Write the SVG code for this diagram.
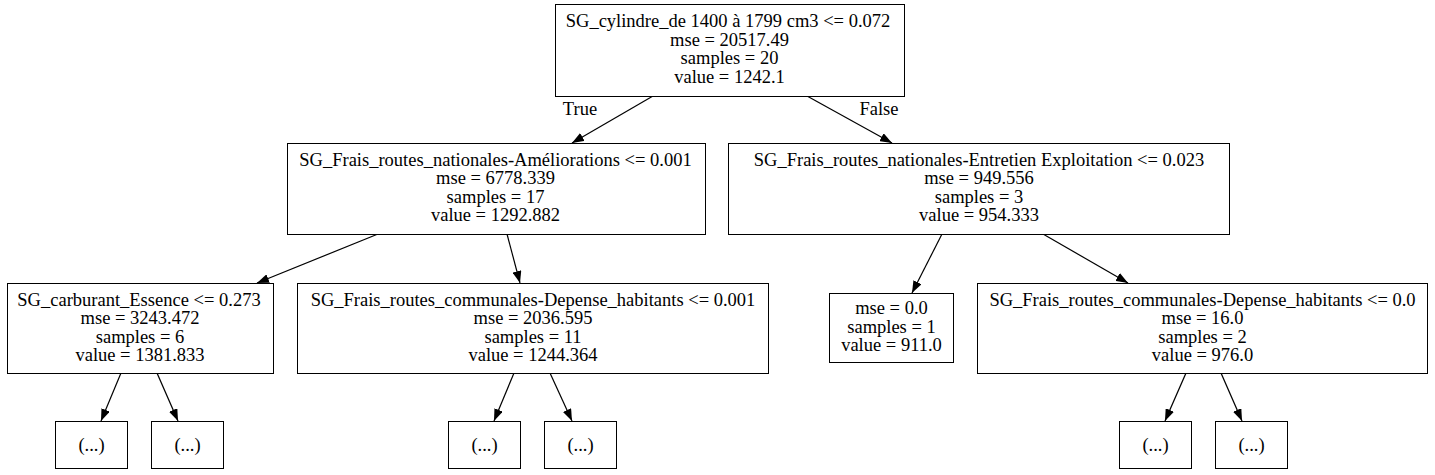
<svg xmlns="http://www.w3.org/2000/svg" width="1435" height="475" viewBox="0 0 1435 475">
<style>
.box{fill:#fff;stroke:#000;stroke-width:1}
text{font-family:"Liberation Serif","Times New Roman",serif;font-size:18.5px;fill:#000;text-anchor:middle}
.edge{stroke:#000;stroke-width:1.2;fill:none;marker-end:url(#ah)}
</style>
<defs>
<marker id="ah" viewBox="0 0 12 9" refX="12" refY="4.5" markerWidth="12" markerHeight="9" markerUnits="userSpaceOnUse" orient="auto">
<path d="M0,0 L12,4.5 L0,9 z" fill="#000"/>
</marker>
</defs>
<rect width="1435" height="475" fill="#fff"/>
<g id="connectors">
<path class="edge" d="M653,96 L572,143"/>
<path class="edge" d="M807,96 L892,143"/>
<path class="edge" d="M378,234 L257,283"/>
<path class="edge" d="M507,234 L520,283"/>
<path class="edge" d="M942,234 L912,293"/>
<path class="edge" d="M1043,234 L1128,283"/>
<path class="edge" d="M121,373 L101,421"/>
<path class="edge" d="M157,373 L178,421"/>
<path class="edge" d="M514,373 L494,421"/>
<path class="edge" d="M550,373 L572,421"/>
<path class="edge" d="M1186,373 L1165,421"/>
<path class="edge" d="M1221,373 L1242,421"/>
<text x="580" y="115">True</text>
<text x="879" y="115">False</text>
</g>
<g id="n0">
<rect class="box" x="555.5" y="4.5" width="349" height="92"/>
<text x="728" y="27">SG_cylindre_de 1400 à 1799 cm3 &lt;= 0.072</text>
<text x="729.5" y="45.6">mse = 20517.49</text>
<text x="729.5" y="64.2">samples = 20</text>
<text x="729.5" y="82.8">value = 1242.1</text>
</g>
<g id="n1">
<rect class="box" x="287.5" y="143.5" width="418" height="91"/>
<text x="495.5" y="165.5">SG_Frais_routes_nationales-Améliorations &lt;= 0.001</text>
<text x="495.5" y="184.1">mse = 6778.339</text>
<text x="495.5" y="202.7">samples = 17</text>
<text x="495.5" y="221.3">value = 1292.882</text>
</g>
<g id="n2">
<rect class="box" x="728.5" y="143.5" width="501" height="91"/>
<text x="979" y="165.5">SG_Frais_routes_nationales-Entretien Exploitation &lt;= 0.023</text>
<text x="979" y="184.1">mse = 949.556</text>
<text x="979" y="202.7">samples = 3</text>
<text x="979" y="221.3">value = 954.333</text>
</g>
<g id="n3">
<rect class="box" x="7.5" y="283.5" width="266" height="90"/>
<text x="139" y="305.5">SG_carburant_Essence &lt;= 0.273</text>
<text x="140" y="324.1">mse = 3243.472</text>
<text x="140" y="342.7">samples = 6</text>
<text x="140" y="361.3">value = 1381.833</text>
</g>
<g id="n4">
<rect class="box" x="297.5" y="283.5" width="471" height="90"/>
<text x="533" y="305.5">SG_Frais_routes_communales-Depense_habitants &lt;= 0.001</text>
<text x="533" y="324.1">mse = 2036.595</text>
<text x="533" y="342.7">samples = 11</text>
<text x="533" y="361.3">value = 1244.364</text>
</g>
<g id="n5">
<rect class="box" x="829.5" y="293.5" width="124" height="69"/>
<text x="891.5" y="314">mse = 0.0</text>
<text x="891.5" y="332.6">samples = 1</text>
<text x="891.5" y="351.2">value = 911.0</text>
</g>
<g id="n6">
<rect class="box" x="977.5" y="283.5" width="450" height="90"/>
<text x="1202.5" y="305.5">SG_Frais_routes_communales-Depense_habitants &lt;= 0.0</text>
<text x="1202.5" y="324.1">mse = 16.0</text>
<text x="1202.5" y="342.7">samples = 2</text>
<text x="1202.5" y="361.3">value = 976.0</text>
</g>
<g id="n7"><rect class="box" x="55.5" y="421.5" width="72" height="47"/><text x="91.5" y="451">(...)</text></g>
<g id="n8"><rect class="box" x="151.5" y="421.5" width="72" height="47"/><text x="187.5" y="451">(...)</text></g>
<g id="n9"><rect class="box" x="448.5" y="421.5" width="72" height="47"/><text x="484.5" y="451">(...)</text></g>
<g id="n10"><rect class="box" x="544.5" y="421.5" width="72" height="47"/><text x="580.5" y="451">(...)</text></g>
<g id="n11"><rect class="box" x="1119.5" y="421.5" width="72" height="47"/><text x="1155.5" y="451">(...)</text></g>
<g id="n12"><rect class="box" x="1215.5" y="421.5" width="72" height="47"/><text x="1251.5" y="451">(...)</text></g>
</svg>
